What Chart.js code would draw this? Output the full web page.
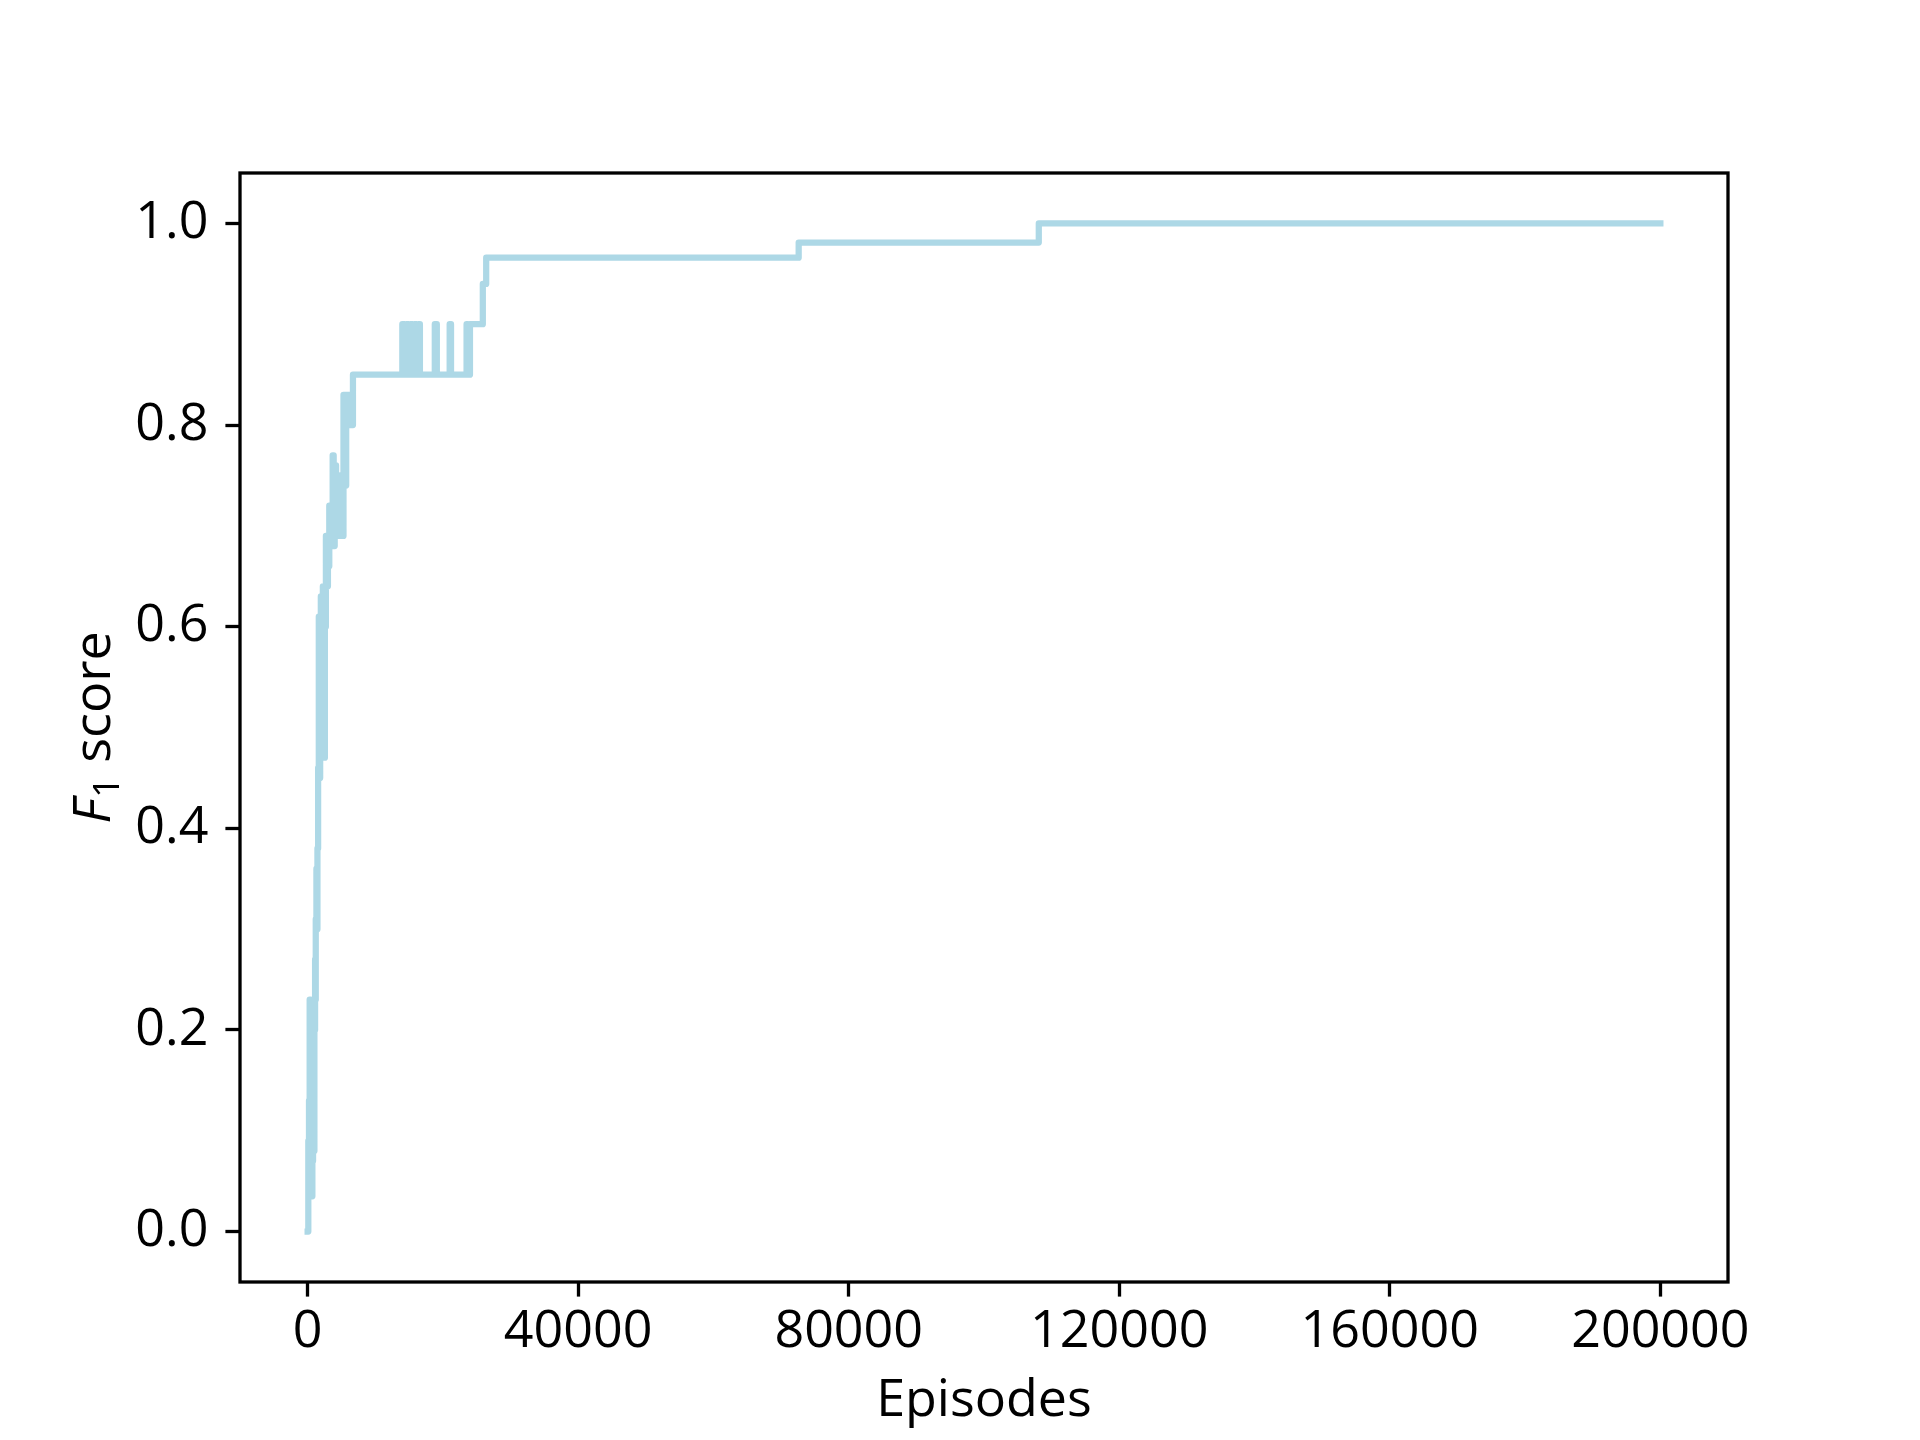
<!DOCTYPE html>
<html>
<head>
<meta charset="utf-8">
<script src="https://cdn.jsdelivr.net/npm/chart.js@4"></script>
<style>
  html, body { margin: 0; padding: 0; background: #fff; }
  #wrap { width: 1920px; height: 1440px; }
</style>
</head>
<body>
<div id="wrap"><canvas id="my" width="1920" height="1440"></canvas></div>
<script>
// best F1 score so far (step changes)
var episodes = [0, 100, 200, 300, 450, 600, 700, 800, 900, 1000, 1100, 1150, 1200, 1300, 1400, 1450,
    1550, 1650, 1750, 1850, 1950, 2100, 2250, 2400, 2550, 2700, 2850, 3000, 3200, 3350, 3500, 3700,
    3850, 4000, 4200, 4400, 4600, 4800, 5100, 5300, 5500, 5700, 5900, 6100, 6400, 6700,
    14000, 14300, 14600, 14900, 15200, 15500, 15800, 16100, 16400, 16600,
    18800, 19100, 21000, 21200, 23500, 23700, 24000, 25900, 26400, 72600, 108100, 200000];
var f1Scores = [0.0, 0.09, 0.13, 0.23, 0.10, 0.035, 0.07, 0.14, 0.08, 0.20, 0.27, 0.23, 0.31, 0.36, 0.30, 0.38,
    0.46, 0.61, 0.45, 0.58, 0.63, 0.50, 0.64, 0.47, 0.60, 0.69, 0.64, 0.66, 0.72, 0.68, 0.70, 0.77,
    0.68, 0.76, 0.70, 0.72, 0.69, 0.75, 0.69, 0.83, 0.74, 0.83, 0.80, 0.83, 0.80, 0.85,
    0.90, 0.85, 0.90, 0.85, 0.90, 0.85, 0.90, 0.85, 0.90, 0.85,
    0.90, 0.85, 0.90, 0.85, 0.90, 0.85, 0.90, 0.94, 0.966, 0.981, 1.0, 1.0];
var xTicks = [0, 40000, 80000, 120000, 160000, 200000];
var yTicks = [0.0, 0.2, 0.4, 0.6, 0.8, 1.0];

var fontFamily = "'Open Sans', sans-serif";
Chart.defaults.color = '#000';
Chart.defaults.font.family = fontFamily;

var points = episodes.map(function (e, i) { return {x: e, y: f1Scores[i]}; });

var frame = {
    id: 'frame',
    afterDatasetsDraw: function (chart) {
        var a = chart.chartArea, c = chart.ctx;
        c.save();
        c.strokeStyle = '#000';
        c.lineWidth = 3.3;
        c.strokeRect(a.left, a.top, a.right - a.left, a.bottom - a.top);
        c.restore();
    },
    afterDraw: function (chart) {
        // y axis title: italic F with subscript 1
        var a = chart.chartArea, c = chart.ctx;
        c.save();
        c.fillStyle = '#000';
        c.textBaseline = 'alphabetic';
        c.textAlign = 'left';
        var big = "52px " + fontFamily, ital = "italic 52px " + fontFamily, small = "36px " + fontFamily;
        c.font = ital; var wF = c.measureText('F').width;
        c.font = small; var w1 = c.measureText('1').width;
        c.font = big; var wS = c.measureText(' score').width;
        var total = wF + w1 + 2 + wS;
        c.translate(110, (a.top + a.bottom) / 2);
        c.rotate(-Math.PI / 2);
        var x0 = -total / 2;
        c.font = ital; c.fillText('F', x0, 0);
        c.font = small; c.fillText('1', x0 + wF + 1, 9);
        c.font = big; c.fillText(' score', x0 + wF + w1 + 2, 0);
        c.restore();
    }
};

var ctx = document.getElementById("my").getContext('2d');
var myChart = new Chart(ctx, {
    type: 'line',
    plugins: [frame],
    data: {
        datasets: [{
            data: points,
            borderColor: '#add8e6',
            borderWidth: 6.25,
            borderCapStyle: 'square',
            borderJoinStyle: 'round',
            pointRadius: 0,
            stepped: true,
            fill: false
        }]
    },
    options: {
        responsive: false,
        animation: false,
        devicePixelRatio: 1,
        layout: {padding: {left: 0, right: 192, top: 173, bottom: 0}},
        plugins: {legend: {display: false}, tooltip: {enabled: false}},
        scales: {
            x: {
                type: 'linear',
                min: -10000,
                max: 210000,
                afterBuildTicks: function (s) { s.ticks = xTicks.map(function (v) { return {value: v}; }); },
                afterFit: function (s) { s.height = 158; },
                ticks: {
                    font: {size: 52},
                    padding: 4,
                    maxRotation: 0,
                    callback: function (v) { return String(v); }
                },
                grid: {drawOnChartArea: false, drawTicks: true, tickLength: 14.6, tickWidth: 3.3, tickColor: '#000'},
                border: {display: false},
                title: {display: true, text: 'Episodes', font: {size: 52}, padding: {top: 0, bottom: 8}}
            },
            y: {
                type: 'linear',
                min: -0.05,
                max: 1.05,
                afterBuildTicks: function (s) { s.ticks = yTicks.map(function (v) { return {value: v}; }); },
                afterFit: function (s) { s.width = 240; },
                ticks: {
                    font: {size: 52},
                    padding: 17,
                    callback: function (v) { return v.toFixed(1); }
                },
                grid: {drawOnChartArea: false, drawTicks: true, tickLength: 14.6, tickWidth: 3.3, tickColor: '#000'},
                border: {display: false}
            }
        }
    }
});
</script>
</body>
</html>
